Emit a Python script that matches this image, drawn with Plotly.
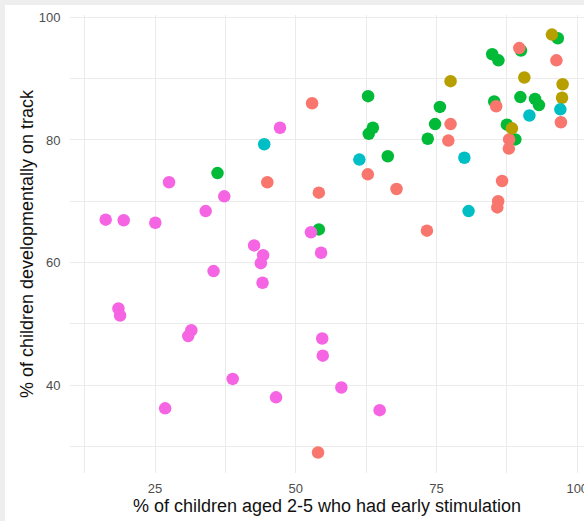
import plotly.graph_objects as go

# Data (x: % early stimulation, y: % developmentally on track)
green_x = [36.1, 54.1, 62.85, 63.7, 62.97, 66.35, 73.45, 74.75, 75.6, 84.9, 86.0, 90.0, 96.55, 85.25, 89.9, 92.5, 93.2, 87.5, 89.0]
green_y = [74.6, 65.4, 87.15, 82.0, 81.0, 77.35, 80.2, 82.6, 85.4, 94.0, 93.0, 94.6, 96.6, 86.3, 87.0, 86.7, 85.7, 82.5, 80.1]

salmon_x = [44.95, 52.9, 54.1, 53.96, 62.8, 67.9, 73.3, 77.5, 77.1, 89.7, 96.3, 97.1, 85.6, 87.9, 87.85, 86.65, 85.95, 85.8]
salmon_y = [73.1, 86.0, 71.4, 29.0, 74.4, 72.0, 65.2, 82.6, 79.9, 95.0, 93.0, 82.9, 85.5, 80.1, 78.6, 73.3, 70.0, 69.0]

olive_x = [77.5, 95.5, 90.6, 97.4, 97.3, 88.4]
olive_y = [89.6, 97.2, 90.2, 89.1, 86.9, 81.9]

teal_x = [44.4, 61.3, 79.95, 80.7, 97.0, 91.5]
teal_y = [79.3, 76.8, 77.1, 68.4, 85.0, 84.0]

magenta_x = [16.24, 19.44, 25.05, 27.49, 34.0, 37.3, 42.6, 44.2, 43.8, 35.4, 47.2, 44.1, 18.5, 18.8,
             31.45, 30.9, 38.8, 26.8, 46.5, 54.7, 54.8, 58.1, 64.9, 52.7, 54.5]
magenta_y = [67.0, 66.9, 66.5, 73.1, 68.4, 70.8, 62.8, 61.2, 59.9, 58.6, 82.0, 56.7, 52.5, 51.35,
             48.95, 48.0, 41.0, 36.2, 38.0, 47.6, 44.8, 39.6, 35.9, 64.95, 61.6]

x_ticks = [25, 50, 75, 100]
y_ticks = [40, 60, 80, 100]

series = [
    ("green", green_x, green_y, "#00BA38"),
    ("salmon", salmon_x, salmon_y, "#F8766D"),
    ("olive", olive_x, olive_y, "#B79F00"),
    ("teal", teal_x, teal_y, "#00BFC4"),
    ("magenta", magenta_x, magenta_y, "#F564E3"),
]

fig = go.Figure()
for name, xs, ys, col in series:
    fig.add_trace(go.Scatter(x=xs, y=ys, mode="markers", name=name,
                             marker=dict(color=col, size=12.5, line=dict(width=0)),
                             showlegend=False))

font = "Liberation Sans, Arial, sans-serif"
grid = "#ebebeb"

fig.update_layout(
    width=584, height=521,
    margin=dict(l=70, r=0, t=15, b=48, autoexpand=False),
    paper_bgcolor="#eeeeee", plot_bgcolor="white",
    font=dict(family=font, color="#4d4d4d", size=13),
    xaxis=dict(
        range=[9.9, 101.2], tickvals=x_ticks, ticktext=[str(v) for v in x_ticks],
        showgrid=True, gridcolor=grid, gridwidth=1.1, zeroline=False, showline=False,
        ticks="outside", ticklen=3, tickcolor="rgba(0,0,0,0)",
        tickfont=dict(size=13, color="#4d4d4d"), ticklabeloverflow="allow",
        minor=dict(tickvals=[12.5, 37.5, 62.5, 87.5], showgrid=True, gridcolor=grid, gridwidth=0.6),
        title=dict(text="% of children aged 2-5 who had early stimulation",
                   font=dict(size=18, color="#111111"), standoff=3),
        automargin=False,
    ),
    yaxis=dict(
        range=[25.65, 100.4], tickvals=y_ticks, ticktext=[str(v) for v in y_ticks],
        showgrid=True, gridcolor=grid, gridwidth=1.1, zeroline=False, showline=False,
        ticks="outside", ticklen=6, tickcolor="rgba(0,0,0,0)",
        tickfont=dict(size=13, color="#4d4d4d"),
        minor=dict(tickvals=[30, 50, 70, 90], showgrid=True, gridcolor=grid, gridwidth=0.6),
        title=dict(text="% of children developmentally on track",
                   font=dict(size=18, color="#111111"), standoff=0),
        automargin=False,
    ),
)

# white page area below the plot panel, leaving thin grey strips on the top and left edges
fig.add_shape(type="rect", xref="paper", yref="paper",
              x0=-65/514, x1=1.05, y0=-48/458, y1=(516-48)/458,
              fillcolor="white", line=dict(width=0), layer="below")

fig.write_html("out.html",
               config={"displayModeBar": False},
               post_script="document.body.style.margin='0';document.body.style.overflow='hidden';")
